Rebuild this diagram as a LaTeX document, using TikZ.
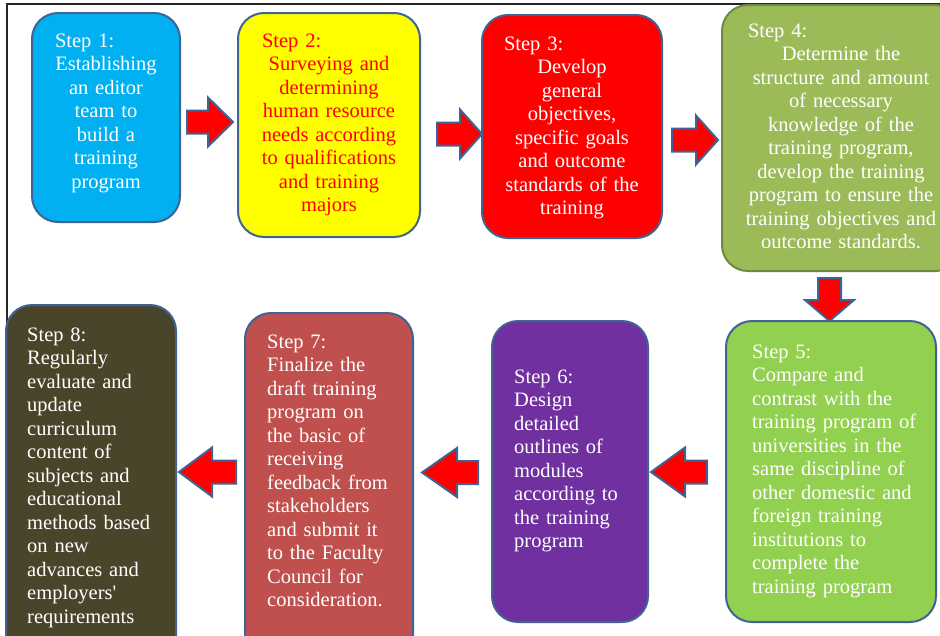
\documentclass[tikz,border=0pt]{standalone}
\usepackage{fontspec}
\setmainfont{Liberation Serif}
\newfontfamily\plainquote{Liberation Serif}[Ligatures=ResetAll]
\begin{document}
\begin{tikzpicture}[x=1pt,y=-1pt,
  stepbox/.style={draw=boxline, line width=2pt, rounded corners=26pt},
  steptext/.style={inner sep=0pt, anchor=base, text=white,
    font=\fontsize{20.5}{23.5}\selectfont},
  blockarr/.style={draw=boxline, line width=2pt, fill=red, line join=miter},
]
\definecolor{boxline}{RGB}{62,99,148}
\definecolor{oliveline}{RGB}{113,137,63}
\definecolor{cOne}{RGB}{0,176,240}
\definecolor{cTwo}{RGB}{255,255,0}
\definecolor{cThree}{RGB}{255,0,0}
\definecolor{cFour}{RGB}{155,187,89}
\definecolor{cFive}{RGB}{146,208,80}
\definecolor{cSix}{RGB}{112,48,160}
\definecolor{cSeven}{RGB}{192,80,77}
\definecolor{cEight}{RGB}{74,69,42}

\useasboundingbox (0,0) rectangle (940,635);
\clip (0,0) rectangle (940,635);

% outer frame
\draw[line width=1.2pt, black!85] (7,660) -- (7,4) -- (960,4);

% step boxes
\node[stepbox, fill=cOne, minimum width=148pt, minimum height=209pt] (s1) at (106,117.5) {};
\node[stepbox, fill=cTwo, minimum width=182pt, minimum height=224pt] (s2) at (329,125) {};
\node[stepbox, fill=cThree, minimum width=180pt, minimum height=223pt] (s3) at (572,126.5) {};
\node[stepbox, draw=oliveline, fill=cFour, minimum width=240pt, minimum height=266pt] (s4) at (842,138) {};
\node[stepbox, fill=cFive, minimum width=210pt, minimum height=301pt] (s5) at (831,471.5) {};
\node[stepbox, fill=cSix, minimum width=156pt, minimum height=301pt] (s6) at (570,471.5) {};
\node[stepbox, fill=cSeven, minimum width=168pt, minimum height=360pt] (s7) at (329,493) {};
\node[stepbox, fill=cEight, minimum width=170pt, minimum height=370pt] (s8) at (91,490) {};

% step texts
\node[steptext, text width=134pt, align=center] (t1) at (106,47)
  {\makebox[134pt][l]{\hspace{16pt}Step 1:}\\Establishing\\an editor\\team to\\build a\\training\\program};
\node[steptext, text=red, text width=170pt, align=center] (t2) at (329,47)
  {\makebox[170pt][l]{\hspace{18pt}Step 2:}\\Surveying and\\determining\\human resource\\needs according\\to qualifications\\and training\\majors};
\node[steptext, text width=170pt, align=center] (t3) at (572,50)
  {\makebox[170pt][l]{\hspace{17pt}Step 3:}\\Develop\\general\\objectives,\\specific goals\\and outcome\\standards of the\\training};
\node[steptext, text width=210pt, align=center] (t4) at (841,37)
  {\makebox[210pt][l]{\hspace{12pt}Step 4:}\\Determine the\\structure and amount\\of necessary\\knowledge of the\\training program,\\develop the training\\program to ensure the\\training objectives and\\outcome standards.};
\node[steptext, anchor=base west, text width=180pt, align=left] (t5) at (752,358)
  {Step 5:\\Compare and\\contrast with the\\training program of\\universities in the\\same discipline of\\other domestic and\\foreign training\\institutions to\\complete the\\training program};
\node[steptext, anchor=base west, text width=130pt, align=left] (t6) at (514,383)
  {Step 6:\\Design\\detailed\\outlines of\\modules\\according to\\the training\\program};
\node[steptext, anchor=base west, text width=140pt, align=left] (t7) at (267,348)
  {Step 7:\\Finalize the\\draft training\\program on\\the basic of\\receiving\\feedback from\\stakeholders\\and submit it\\to the Faculty\\Council for\\consideration.};
\node[steptext, anchor=base west, text width=140pt, align=left] (t8) at (27,341)
  {Step 8:\\Regularly\\evaluate and\\update\\curriculum\\content of\\subjects and\\educational\\methods based\\on new\\advances and\\employers{\plainquote'}\\requirements};

% block arrows: tail at the origin, tip along +x
% #1 tail x, #2 tail y, #3 rotation, #4 length, #5 head length
\newcommand{\blockarrow}[5]{%
  \begin{scope}[shift={(#1,#2)}, rotate=#3]
    \draw[blockarr] (0,-11.5) -- ({#4-#5},-11.5) -- ({#4-#5},-24.5) -- (#4,0)
      -- ({#4-#5},24.5) -- ({#4-#5},11.5) -- (0,11.5) -- cycle;
  \end{scope}}
\blockarrow{187}{122}{0}{46}{25}
\blockarrow{437}{134}{0}{45}{22}
\blockarrow{672}{140}{0}{46}{22}
\blockarrow{829.5}{278}{-90}{43}{21}
\blockarrow{707}{472}{180}{56}{34}
\blockarrow{478}{472.5}{180}{56}{35}
\blockarrow{236}{472}{180}{57}{33}
\end{tikzpicture}
\end{document}
